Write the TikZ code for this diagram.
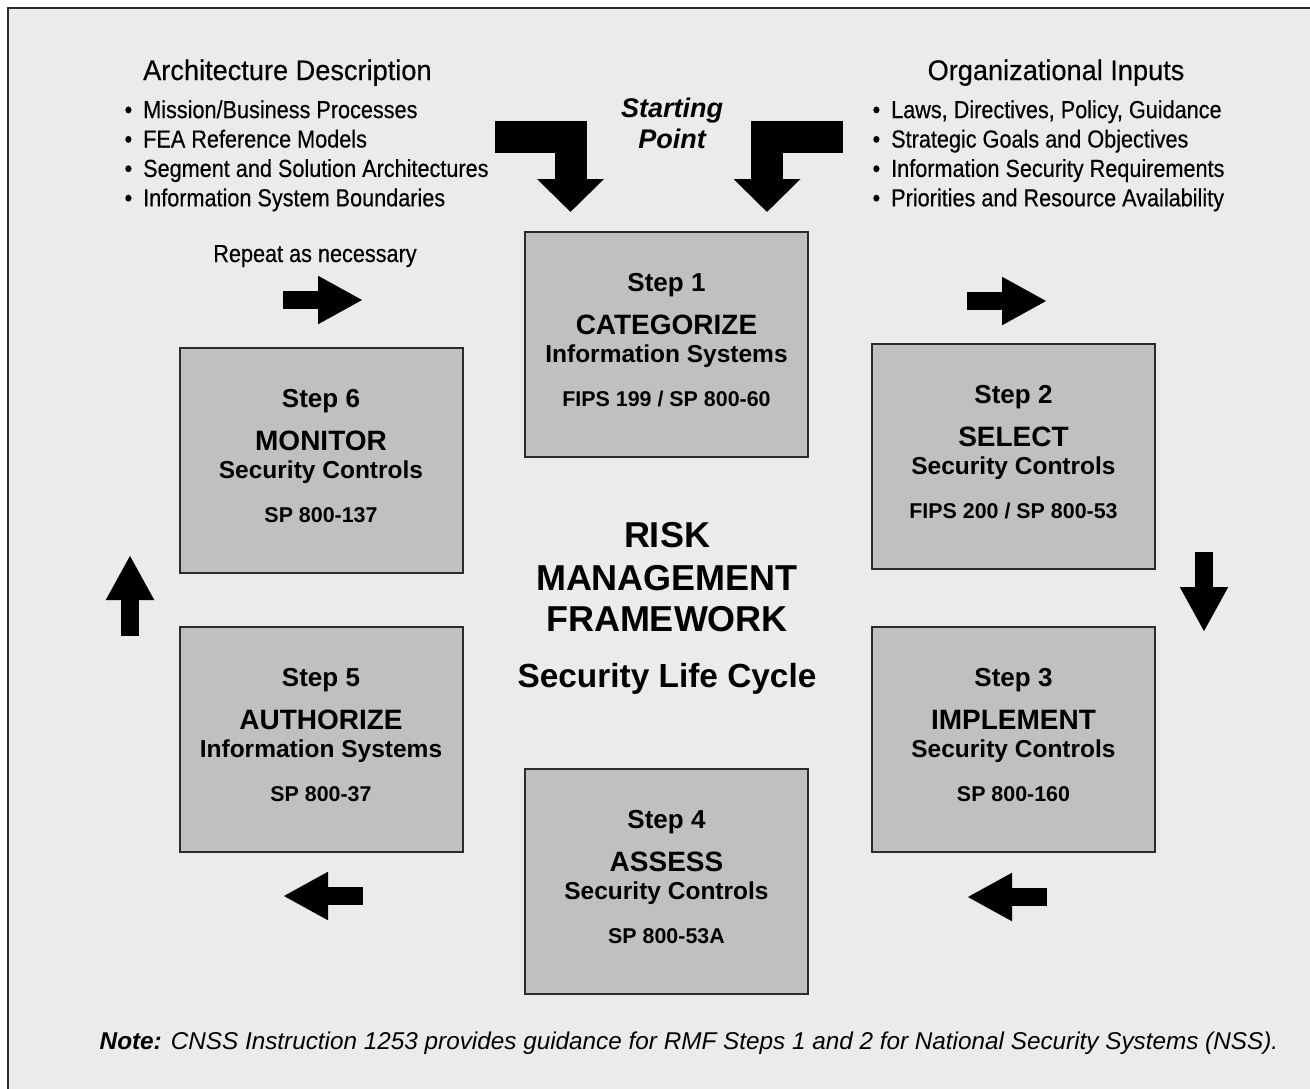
\documentclass[tikz,border=0pt]{standalone}
\usepackage{fontspec}
\setmainfont{Liberation Sans}
\newfontfamily\narrowfont[FakeStretch=0.88, FakeBold=0.4]{Liberation Sans}
\newfontfamily\headfont[FakeStretch=0.96, FakeBold=0.4]{Liberation Sans}
\usepackage{tikz}
\usetikzlibrary{arrows.meta,calc,positioning}

\definecolor{panelgray}{HTML}{EBEBEB}
\definecolor{boxgray}{HTML}{C0C0C0}
\definecolor{edgegray}{HTML}{2B2B2B}

\tikzset{
  stepbox/.style = {rectangle, draw = edgegray, line width = 2pt, fill = boxgray,
    minimum width = 283pt, minimum height = 225pt, inner sep = 0pt},
  stepno/.style = {anchor = base, inner sep = 0pt, font = \bfseries\fontsize{26}{30}\selectfont},
  stepverb/.style = {anchor = base, inner sep = 0pt, font = \bfseries\fontsize{28}{32}\selectfont},
  stepobj/.style = {anchor = base, inner sep = 0pt, font = \bfseries\fontsize{24.5}{28}\selectfont},
  stepref/.style = {anchor = base, inner sep = 0pt, font = \bfseries\fontsize{21.4}{24}\selectfont},
  title/.style = {anchor = base, inner sep = 0pt, font = \bfseries\fontsize{36}{40}\selectfont},
  head/.style = {anchor = base, inner sep = 0pt, font = \headfont\fontsize{28.3}{32}\selectfont},
  item/.style = {anchor = base west, inner sep = 0pt, font = \narrowfont\fontsize{24.6}{28}\selectfont},
  flow/.style = {line width = 18pt, -{Triangle[length = 45pt, width = 45pt]}},
  bigflow/.style = {line width = 32pt, line join = miter, -{Triangle[length = 33pt, width = 65pt]}}
}

\begin{document}
\begin{tikzpicture}[x = 1pt, y = -1pt]
\useasboundingbox (0, 0) rectangle (1310, 1088);
\clip (0, 0) rectangle (1310, 1088);
\fill[white] (0, 0) rectangle (1310, 1088);
\draw[fill = panelgray, draw = edgegray, line width = 2pt] (8, 8) rectangle (1340, 1120);

% inputs
\node[head, anchor = base west] (arch) at (143, 80) {Architecture Description};
\foreach \t [count = \i] in {Mission/Business Processes, FEA Reference Models,
    Segment and Solution Architectures, Information System Boundaries}
  \node[item] (arch\i) at (143, 88.7 + 29.4*\i) {\llap{\textbullet\hspace{11pt}}\t};
\node[head] (org) at (1056, 80) {Organizational Inputs};
\foreach \t [count = \i] in {{Laws, Directives, Policy, Guidance}, Strategic Goals and Objectives,
    Information Security Requirements, Priorities and Resource Availability}
  \node[item] (org\i) at (891, 88.7 + 29.4*\i) {\llap{\textbullet\hspace{11pt}}\t};

\node[anchor = base, font = \bfseries\itshape\fontsize{27}{31}\selectfont] (start1) at (672, 117) {Starting};
\node[anchor = base, font = \bfseries\itshape\fontsize{27}{31}\selectfont] (start2) at (672, 148) {Point};
\node[anchor = base, inner sep = 0pt, font = \narrowfont\fontsize{24.6}{28}\selectfont] (repeat) at (315, 262) {Repeat as necessary};

% the six steps
\foreach \n/\x/\y/\verb/\obj/\ref in {
    1/666.5/344.5/CATEGORIZE/Information Systems/{FIPS 199 / SP 800-60},
    2/1013.5/456.5/SELECT/Security Controls/{FIPS 200 / SP 800-53},
    3/1013.5/739.5/IMPLEMENT/Security Controls/SP 800-160,
    4/666.5/881.5/ASSESS/Security Controls/SP 800-53A,
    5/321/739.5/AUTHORIZE/Information Systems/SP 800-37,
    6/321/460.5/MONITOR/Security Controls/SP 800-137} {
  \node[stepbox] (b\n) at (\x, \y) {};
  \node[stepno] (no\n) at ($(b\n.north) + (0, 60)$) {Step \n};
  \node[stepverb] (verb\n) at ($(b\n.north) + (0, 103)$) {\verb};
  \node[stepobj] (obj\n) at ($(b\n.north) + (0, 131)$) {\obj};
  \node[stepref] (ref\n) at ($(b\n.north) + (0, 175)$) {\ref};
}

% centre
\node[title] (risk) at (667, 547) {RISK};
\node[title] (mgmt) at (667, 590) {MANAGEMENT};
\node[title] (frame) at (667, 631) {FRAMEWORK};
\node[anchor = base, inner sep = 0pt, font = \bfseries\fontsize{33.4}{38}\selectfont] (cycle) at (667, 687) {Security Life Cycle};

% arrows
\draw[bigflow] (495, 137) -| (570.5, 212);
\draw[bigflow] (843, 137) -| (767, 212);
\draw[flow] (283, 300) -- (363, 300);
\draw[flow] (967, 301) -- (1047, 301);
\draw[flow] (1204, 552) -- (1204, 632);
\draw[flow] (1047, 897) -- (967, 897);
\draw[flow] (363, 896) -- (283, 896);
\draw[flow] (130, 636) -- (130, 555);

\node[anchor = base, inner sep = 0pt, font = \itshape\fontsize{24.3}{29}\selectfont] (note) at (689, 1049)
  {\textbf{Note:} CNSS Instruction 1253 provides guidance for RMF Steps 1 and 2 for National Security Systems (NSS).};
\end{tikzpicture}
\end{document}
